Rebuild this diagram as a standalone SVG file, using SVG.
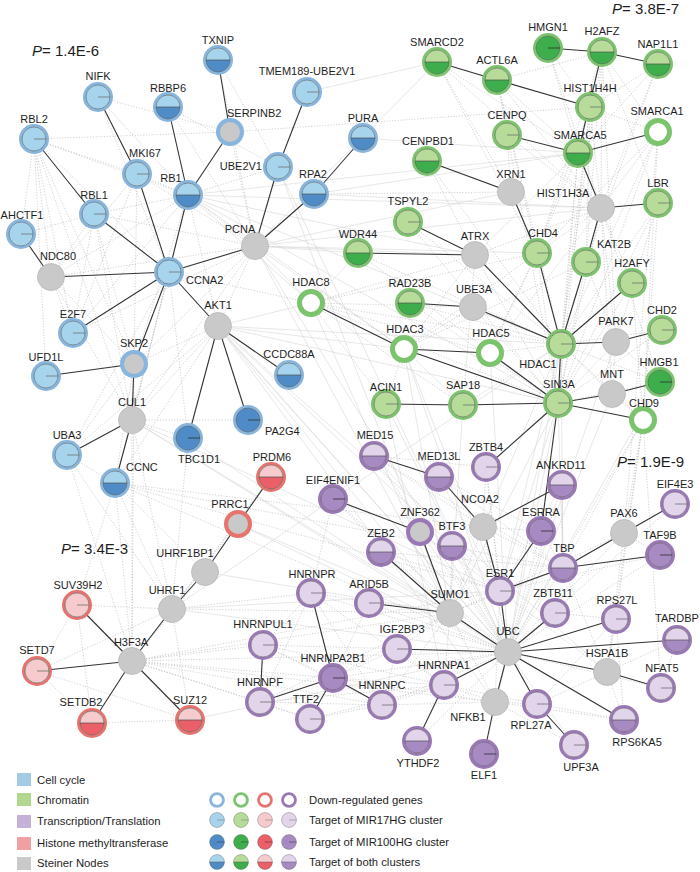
<svg xmlns="http://www.w3.org/2000/svg" width="700" height="872" viewBox="0 0 700 872">
<style>
.d{fill:none;stroke:#b3b3b3;stroke-width:.6;stroke-dasharray:1.2 1.6}
.f{fill:none;stroke:#d6d6d6;stroke-width:.6}
.e{fill:none;stroke:#333;stroke-width:1.1}
.o{stroke:#5c5c5c;stroke-width:.6}
.t{stroke:#707070;stroke-width:.8}
.td{stroke:#2e2e2e;stroke-width:.8}
.m{stroke:#505050;stroke-width:.7}
.s{fill:#c9c9c9;stroke:#b8b8b8;stroke-width:.8}
.rb{fill:none;stroke:#88b5dd;stroke-width:3}
.rg{fill:none;stroke:#7cc36d;stroke-width:3}
.rr{fill:none;stroke:#e6736e;stroke-width:3}
.rp{fill:none;stroke:#9a77b6;stroke-width:3}
.eb{fill:#fff;stroke:#88b5dd;stroke-width:5}
.eg{fill:#fff;stroke:#7cc36d;stroke-width:5}
.er{fill:#fff;stroke:#e6736e;stroke-width:5}
.ep{fill:#fff;stroke:#9a77b6;stroke-width:5}
.gb{fill:#c9c9c9;stroke:#88b5dd;stroke-width:4}
.gr{fill:#c9c9c9;stroke:#e6736e;stroke-width:4}
.gp{fill:#c9c9c9;stroke:#9a77b6;stroke-width:4}
.l{font:11px "Liberation Sans",Arial,sans-serif;fill:#1e1e1e;text-anchor:middle}
.ls{text-anchor:start}
.le{text-anchor:end}
.pv{font:15px "Liberation Sans",Arial,sans-serif;fill:#1e1e1e}
.lg{font:11.3px "Liberation Sans",Arial,sans-serif;fill:#1e1e1e}
</style>
<defs>
<g id="bLi"><circle r="12" fill="#a7d4ed" class="o"/><path d="M0 0H12" class="t"/></g>
<g id="bDi"><circle r="12" fill="#4f8cc7" class="o"/><path d="M0 0H12" class="td"/></g>
<g id="bHi"><circle r="12" fill="#a7d4ed"/><path d="M-12 0A12 12 0 0 0 12 0Z" fill="#4f8cc7"/><circle r="12" fill="none" class="o"/><path d="M-12 0H12" class="m"/></g>
<g id="gLi"><circle r="12" fill="#b7dc99" class="o"/><path d="M0 0H12" class="t"/></g>
<g id="gDi"><circle r="12" fill="#3dae4b" class="o"/><path d="M0 0H12" class="td"/></g>
<g id="gHi"><circle r="12" fill="#b7dc99"/><path d="M-12 0A12 12 0 0 0 12 0Z" fill="#3dae4b"/><circle r="12" fill="none" class="o"/><path d="M-12 0H12" class="m"/></g>
<g id="rLi"><circle r="12" fill="#f5cbce" class="o"/><path d="M0 0H12" class="t"/></g>
<g id="rDi"><circle r="12" fill="#ea5f68" class="o"/><path d="M0 0H12" class="td"/></g>
<g id="rHi"><circle r="12" fill="#f5cbce"/><path d="M-12 0A12 12 0 0 0 12 0Z" fill="#ea5f68"/><circle r="12" fill="none" class="o"/><path d="M-12 0H12" class="m"/></g>
<g id="pLi"><circle r="12" fill="#e2d4eb" class="o"/><path d="M0 0H12" class="t"/></g>
<g id="pDi"><circle r="12" fill="#a88ac3" class="o"/><path d="M0 0H12" class="td"/></g>
<g id="pHi"><circle r="12" fill="#e2d4eb"/><path d="M-12 0A12 12 0 0 0 12 0Z" fill="#a88ac3"/><circle r="12" fill="none" class="o"/><path d="M-12 0H12" class="m"/></g>
<g id="bL"><circle r="13.5" class="rb"/><use href="#bLi"/></g>
<g id="bD"><circle r="13.5" class="rb"/><use href="#bDi"/></g>
<g id="bH"><circle r="13.5" class="rb"/><use href="#bHi"/></g>
<g id="gL"><circle r="13.5" class="rg"/><use href="#gLi"/></g>
<g id="gD"><circle r="13.5" class="rg"/><use href="#gDi"/></g>
<g id="gH"><circle r="13.5" class="rg"/><use href="#gHi"/></g>
<g id="rL"><circle r="13.5" class="rr"/><use href="#rLi"/></g>
<g id="rH"><circle r="13.5" class="rr"/><use href="#rHi"/></g>
<g id="pL"><circle r="13.5" class="rp"/><use href="#pLi"/></g>
<g id="pD"><circle r="13.5" class="rp"/><use href="#pDi"/></g>
<g id="pH"><circle r="13.5" class="rp"/><use href="#pHi"/></g>
<circle id="bE" r="11.5" class="eb"/>
<circle id="gE" r="11.5" class="eg"/>
<circle id="rE" r="11.5" class="er"/>
<circle id="pE" r="11.5" class="ep"/>
<circle id="bG" r="12" class="gb"/>
<circle id="rG" r="12" class="gr"/>
<circle id="pG" r="12" class="gp"/>
<circle id="S" r="13.5" class="s"/>
</defs>
<rect width="700" height="872" fill="#fff"/>
<g id="connectors">
<g id="background-edges">
<path class="d" d="M34 139 230 132"/><path class="d" d="M34 139 137 174"/><path class="d" d="M34 139 188 195"/><path class="d" d="M34 139 169 272"/><path class="d" d="M34 139 51 277"/><path class="d" d="M34 139 73 333"/><path class="d" d="M34 139 21 234"/><path class="d" d="M34 139 134 364"/><path class="d" d="M34 139 132 420"/><path class="d" d="M34 139 46 376"/>
<path class="d" d="M98 97 230 132"/><path class="d" d="M98 97 188 195"/><path class="d" d="M98 97 169 272"/><path class="d" d="M168 107 255 246"/><path class="d" d="M168 107 278 167"/><path class="d" d="M218 60 278 167"/><path class="d" d="M218 60 255 246"/>
<path class="d" d="M137 174 188 195"/><path class="d" d="M137 174 255 246"/><path class="d" d="M137 174 51 277"/><path class="d" d="M137 174 134 364"/><path class="d" d="M137 174 73 333"/>
<path class="d" d="M188 195 255 246"/><path class="d" d="M188 195 218 326"/><path class="d" d="M188 195 73 333"/><path class="d" d="M188 195 134 364"/><path class="d" d="M188 195 132 420"/><path class="d" d="M188 195 51 277"/><path class="d" d="M188 195 278 167"/>
<path class="d" d="M94 214 188 195"/><path class="d" d="M94 214 255 246"/><path class="d" d="M94 214 51 277"/><path class="d" d="M94 214 73 333"/><path class="d" d="M94 214 134 364"/><path class="d" d="M94 214 132 420"/><path class="d" d="M94 214 21 234"/>
<path class="d" d="M169 272 132 420"/><path class="d" d="M169 272 67 455"/><path class="d" d="M169 272 115 483"/><path class="d" d="M169 272 188 438"/><path class="d" d="M51 277 73 333"/><path class="d" d="M51 277 134 364"/><path class="d" d="M51 277 132 420"/>
<path class="d" d="M255 246 218 326"/><path class="d" d="M255 246 134 364"/><path class="d" d="M255 246 132 420"/><path class="d" d="M255 246 51 277"/><path class="d" d="M255 246 73 333"/>
<path class="d" d="M218 326 134 364"/><path class="d" d="M218 326 132 420"/><path class="d" d="M218 326 115 483"/><path class="d" d="M218 326 67 455"/><path class="d" d="M134 364 67 455"/><path class="d" d="M134 364 115 483"/><path class="d" d="M132 420 188 438"/><path class="d" d="M132 420 248 420"/><path class="d" d="M67 455 115 483"/><path class="d" d="M230 132 255 246"/>
<path class="f" d="M255 246 311 303"/><path class="f" d="M255 246 404 349"/><path class="f" d="M255 246 475 255"/><path class="f" d="M255 246 358 253"/><path class="f" d="M255 246 511 192"/><path class="f" d="M255 246 601 208"/><path class="f" d="M255 246 437 62"/><path class="f" d="M255 246 537 253"/><path class="f" d="M255 246 508 652"/><path class="f" d="M255 246 450 613"/>
<path class="f" d="M218 326 311 303"/><path class="f" d="M218 326 404 349"/><path class="f" d="M218 326 561 344"/><path class="f" d="M218 326 558 403"/><path class="f" d="M218 326 508 652"/><path class="f" d="M218 326 500 591"/><path class="f" d="M218 326 450 613"/><path class="f" d="M218 326 495 702"/><path class="f" d="M218 326 607 672"/>
<path class="f" d="M188 195 561 344"/><path class="f" d="M188 195 404 349"/><path class="f" d="M188 195 311 303"/><path class="f" d="M188 195 558 403"/><path class="f" d="M188 195 475 255"/><path class="f" d="M188 195 578 153"/><path class="f" d="M188 195 601 208"/>
<path class="f" d="M169 272 508 652"/><path class="d" d="M169 272 311 303"/><path class="f" d="M132 420 508 652"/><path class="f" d="M132 420 450 613"/><path class="f" d="M132 420 500 591"/>
<path class="d" d="M115 483 508 652"/><path class="d" d="M115 483 563 568"/><path class="d" d="M115 483 500 591"/><path class="d" d="M115 483 483 527"/><path class="f" d="M188 438 508 652"/><path class="f" d="M278 167 508 652"/><path class="f" d="M278 167 450 613"/>
<path class="f" d="M314 194 601 208"/><path class="f" d="M314 194 578 153"/><path class="d" d="M314 194 511 192"/><path class="f" d="M307 92 437 62"/><path class="f" d="M363 138 578 153"/><path class="d" d="M230 132 590 107"/>
<path class="d" d="M437 62 590 107"/><path class="d" d="M437 62 578 153"/><path class="d" d="M437 62 601 208"/><path class="d" d="M437 62 537 253"/><path class="d" d="M437 62 511 192"/>
<path class="d" d="M497 80 602 52"/><path class="d" d="M497 80 578 153"/><path class="d" d="M497 80 601 208"/><path class="d" d="M497 80 561 344"/><path class="d" d="M497 80 537 253"/><path class="d" d="M497 80 558 403"/>
<path class="d" d="M548 48 590 107"/><path class="d" d="M548 48 578 153"/><path class="d" d="M548 48 601 208"/>
<path class="d" d="M602 52 601 208"/><path class="d" d="M602 52 561 344"/><path class="d" d="M602 52 586 262"/><path class="d" d="M602 52 658 132"/><path class="d" d="M602 52 658 203"/><path class="d" d="M602 52 616 342"/><path class="d" d="M602 52 537 253"/>
<path class="d" d="M658 64 590 107"/><path class="d" d="M658 64 601 208"/><path class="d" d="M658 64 578 153"/><path class="d" d="M658 64 586 262"/>
<path class="d" d="M590 107 601 208"/><path class="d" d="M590 107 658 132"/><path class="d" d="M590 107 561 344"/><path class="d" d="M590 107 537 253"/><path class="d" d="M590 107 586 262"/><path class="d" d="M590 107 558 403"/>
<path class="d" d="M507 135 601 208"/><path class="d" d="M507 135 511 192"/>
<path class="d" d="M658 132 601 208"/><path class="d" d="M658 132 561 344"/><path class="d" d="M658 132 558 403"/><path class="d" d="M658 132 537 253"/><path class="d" d="M658 132 643 420"/>
<path class="d" d="M578 153 561 344"/><path class="d" d="M578 153 537 253"/><path class="d" d="M578 153 558 403"/><path class="d" d="M578 153 475 255"/>
<path class="d" d="M601 208 561 344"/><path class="d" d="M601 208 558 403"/><path class="d" d="M601 208 537 253"/><path class="d" d="M601 208 632 283"/><path class="d" d="M601 208 475 255"/><path class="d" d="M601 208 660 382"/><path class="d" d="M601 208 616 342"/><path class="d" d="M601 208 490 353"/><path class="d" d="M601 208 612 394"/>
<path class="d" d="M658 203 561 344"/><path class="d" d="M658 203 558 403"/><path class="d" d="M658 203 643 420"/><path class="d" d="M658 203 616 342"/>
<path class="d" d="M427 161 475 255"/><path class="d" d="M427 161 561 344"/><path class="d" d="M408 222 561 344"/><path class="d" d="M408 222 558 403"/><path class="d" d="M358 253 561 344"/><path class="d" d="M358 253 558 403"/>
<path class="d" d="M475 255 558 403"/><path class="d" d="M475 255 404 349"/><path class="d" d="M475 255 463 405"/><path class="d" d="M537 253 558 403"/><path class="d" d="M537 253 404 349"/><path class="d" d="M537 253 490 353"/><path class="d" d="M537 253 463 405"/>
<path class="d" d="M586 262 558 403"/><path class="d" d="M586 262 404 349"/><path class="d" d="M586 262 616 342"/><path class="d" d="M632 283 558 403"/><path class="d" d="M632 283 643 420"/>
<path class="d" d="M311 303 558 403"/><path class="d" d="M311 303 561 344"/><path class="d" d="M311 303 463 405"/><path class="d" d="M311 303 473 307"/><path class="d" d="M311 303 475 255"/><path class="d" d="M311 303 358 253"/><path class="d" d="M311 303 386 404"/><path class="d" d="M311 303 490 353"/><path class="d" d="M311 303 537 253"/>
<path class="d" d="M410 303 561 344"/><path class="d" d="M410 303 558 403"/><path class="d" d="M473 307 558 403"/><path class="d" d="M404 349 463 405"/><path class="d" d="M404 349 386 404"/><path class="d" d="M404 349 473 307"/><path class="d" d="M490 353 561 344"/>
<path class="d" d="M561 344 612 394"/><path class="d" d="M561 344 662 330"/><path class="d" d="M561 344 660 382"/><path class="d" d="M561 344 643 420"/><path class="d" d="M561 344 463 405"/><path class="d" d="M558 403 616 342"/><path class="d" d="M558 403 660 382"/><path class="d" d="M558 403 662 330"/><path class="d" d="M612 394 643 420"/><path class="d" d="M612 394 616 342"/><path class="d" d="M616 342 660 382"/>
<path class="f" d="M561 344 500 591"/><path class="f" d="M561 344 483 527"/><path class="f" d="M561 344 508 652"/><path class="f" d="M558 403 500 591"/><path class="f" d="M558 403 508 652"/><path class="f" d="M558 403 563 568"/><path class="f" d="M558 403 450 613"/><path class="f" d="M404 349 508 652"/><path class="f" d="M404 349 450 613"/><path class="f" d="M311 303 450 613"/><path class="f" d="M404 349 500 591"/><path class="f" d="M490 353 508 652"/>
<path class="d" d="M643 420 508 652"/><path class="d" d="M643 420 624 533"/><path class="d" d="M643 420 563 568"/><path class="d" d="M643 420 607 672"/><path class="d" d="M643 420 616 619"/><path class="d" d="M643 420 661 688"/><path class="f" d="M612 394 508 652"/><path class="f" d="M660 382 508 652"/><path class="f" d="M616 342 508 652"/><path class="f" d="M463 405 450 613"/><path class="f" d="M386 404 444 685"/><path class="f" d="M386 404 508 652"/><path class="f" d="M561 344 563 568"/><path class="d" d="M658 132 624 533"/>
<path class="d" d="M271 477 172 609"/><path class="d" d="M271 477 132 661"/><path class="f" d="M238 524 508 652"/><path class="f" d="M238 524 450 613"/><path class="d" d="M238 524 132 661"/><path class="d" d="M205 572 132 661"/><path class="f" d="M205 572 450 613"/>
<path class="d" d="M172 609 450 613"/><path class="f" d="M172 609 508 652"/><path class="d" d="M172 609 77 605"/><path class="d" d="M172 609 37 671"/><path class="d" d="M172 609 190 720"/><path class="d" d="M172 609 311 593"/><path class="f" d="M172 609 500 591"/><path class="f" d="M172 609 561 344"/>
<path class="d" d="M132 661 508 652"/><path class="d" d="M132 661 450 613"/><path class="d" d="M132 661 333 678"/><path class="d" d="M132 661 260 702"/><path class="d" d="M132 661 382 705"/><path class="d" d="M132 661 310 719"/><path class="d" d="M132 661 263 645"/><path class="d" d="M132 661 500 591"/><path class="d" d="M132 661 495 702"/>
<path class="d" d="M77 605 37 671"/><path class="d" d="M77 605 190 720"/><path class="d" d="M77 605 92 723"/><path class="d" d="M37 671 190 720"/><path class="d" d="M37 671 92 723"/><path class="d" d="M92 723 190 720"/><path class="f" d="M190 720 508 652"/>
<path class="d" d="M115 483 172 609"/><path class="d" d="M115 483 132 661"/><path class="d" d="M115 483 77 605"/><path class="d" d="M67 455 132 661"/><path class="d" d="M67 455 172 609"/><path class="d" d="M188 438 172 609"/><path class="d" d="M132 420 172 609"/><path class="d" d="M132 420 132 661"/><path class="d" d="M134 364 132 661"/><path class="d" d="M115 483 205 572"/>
<path class="d" d="M374 456 483 527"/><path class="d" d="M374 456 500 591"/><path class="d" d="M374 456 563 568"/><path class="d" d="M374 456 486 467"/><path class="d" d="M374 456 333 499"/><path class="d" d="M374 456 508 652"/>
<path class="d" d="M439 477 500 591"/><path class="d" d="M439 477 541 531"/><path class="d" d="M439 477 563 568"/><path class="d" d="M486 467 483 527"/><path class="d" d="M486 467 500 591"/><path class="d" d="M486 467 508 652"/>
<path class="d" d="M562 485 500 591"/><path class="d" d="M562 485 563 568"/><path class="d" d="M562 485 508 652"/><path class="d" d="M333 499 450 613"/><path class="d" d="M333 499 508 652"/><path class="d" d="M333 499 311 593"/>
<path class="d" d="M483 527 563 568"/><path class="d" d="M483 527 450 613"/><path class="d" d="M483 527 508 652"/><path class="d" d="M483 527 541 531"/><path class="d" d="M541 531 563 568"/><path class="d" d="M541 531 508 652"/>
<path class="d" d="M624 533 508 652"/><path class="d" d="M624 533 500 591"/><path class="d" d="M624 533 607 672"/><path class="d" d="M624 533 660 555"/><path class="d" d="M675 504 508 652"/><path class="d" d="M675 504 563 568"/><path class="d" d="M660 555 508 652"/><path class="d" d="M660 555 500 591"/>
<path class="d" d="M420 532 508 652"/><path class="d" d="M420 532 500 591"/><path class="d" d="M381 552 508 652"/><path class="d" d="M381 552 500 591"/><path class="d" d="M381 552 563 568"/><path class="d" d="M452 546 508 652"/><path class="d" d="M452 546 450 613"/>
<path class="d" d="M563 568 508 652"/><path class="d" d="M563 568 607 672"/><path class="d" d="M563 568 450 613"/><path class="d" d="M500 591 450 613"/><path class="d" d="M500 591 607 672"/><path class="d" d="M500 591 495 702"/>
<path class="d" d="M450 613 444 685"/><path class="d" d="M450 613 382 705"/><path class="d" d="M450 613 333 678"/><path class="d" d="M450 613 260 702"/><path class="d" d="M450 613 397 649"/><path class="d" d="M450 613 311 593"/><path class="d" d="M450 613 495 702"/>
<path class="d" d="M311 593 260 702"/><path class="d" d="M311 593 382 705"/><path class="d" d="M311 593 444 685"/><path class="d" d="M311 593 508 652"/><path class="d" d="M311 593 263 645"/><path class="d" d="M369 603 508 652"/><path class="d" d="M369 603 333 678"/>
<path class="d" d="M263 645 333 678"/><path class="d" d="M263 645 382 705"/><path class="d" d="M263 645 444 685"/><path class="d" d="M263 645 508 652"/><path class="d" d="M397 649 333 678"/><path class="d" d="M397 649 382 705"/><path class="d" d="M397 649 444 685"/>
<path class="d" d="M333 678 444 685"/><path class="d" d="M333 678 508 652"/><path class="d" d="M333 678 495 702"/><path class="d" d="M260 702 382 705"/><path class="d" d="M260 702 444 685"/><path class="d" d="M260 702 310 719"/>
<path class="d" d="M382 705 444 685"/><path class="d" d="M382 705 508 652"/><path class="d" d="M382 705 495 702"/><path class="d" d="M382 705 310 719"/><path class="d" d="M444 685 495 702"/><path class="d" d="M444 685 537 704"/><path class="d" d="M310 719 444 685"/>
<path class="d" d="M508 652 417 741"/><path class="d" d="M508 652 484 754"/><path class="d" d="M508 652 574 745"/><path class="d" d="M508 652 661 688"/><path class="d" d="M495 702 537 704"/><path class="d" d="M495 702 624 720"/><path class="d" d="M495 702 574 745"/>
<path class="d" d="M607 672 624 720"/><path class="d" d="M607 672 537 704"/><path class="d" d="M607 672 616 619"/><path class="d" d="M607 672 677 640"/><path class="d" d="M616 619 537 704"/><path class="d" d="M616 619 624 720"/><path class="d" d="M537 704 624 720"/><path class="d" d="M677 640 661 688"/><path class="d" d="M616 619 555 613"/>
</g>
<g id="edges">
<path class="e" d="M218 60 230 132"/><path class="e" d="M98 97 137 174"/><path class="e" d="M168 107 188 195"/><path class="e" d="M230 132 188 195"/><path class="e" d="M34 139 94 214"/><path class="e" d="M137 174 169 272"/><path class="e" d="M188 195 169 272"/><path class="e" d="M94 214 169 272"/><path class="e" d="M307 92 278 167"/><path class="e" d="M278 167 255 246"/><path class="e" d="M363 138 314 194"/><path class="e" d="M314 194 255 246"/><path class="e" d="M255 246 169 272"/><path class="e" d="M21 234 51 277"/><path class="e" d="M51 277 169 272"/><path class="e" d="M73 333 169 272"/><path class="e" d="M134 364 169 272"/><path class="e" d="M46 376 134 364"/><path class="e" d="M134 364 132 420"/><path class="e" d="M169 272 218 326"/><path class="e" d="M218 326 188 438"/><path class="e" d="M218 326 248 420"/><path class="e" d="M218 326 289 375"/><path class="e" d="M132 420 67 455"/><path class="e" d="M132 420 115 483"/>
<path class="e" d="M271 477 238 524"/><path class="e" d="M238 524 205 572"/><path class="e" d="M205 572 172 609"/><path class="e" d="M172 609 132 661"/><path class="e" d="M77 605 132 661"/><path class="e" d="M37 671 132 661"/><path class="e" d="M92 723 132 661"/><path class="e" d="M190 720 132 661"/>
<path class="e" d="M437 62 497 80"/><path class="e" d="M497 80 590 107"/><path class="e" d="M548 48 602 52"/><path class="e" d="M602 52 658 64"/><path class="e" d="M602 52 578 153"/><path class="e" d="M507 135 578 153"/><path class="e" d="M578 153 658 132"/><path class="e" d="M578 153 601 208"/><path class="e" d="M427 161 511 192"/><path class="e" d="M511 192 537 253"/><path class="e" d="M601 208 658 203"/><path class="e" d="M601 208 586 262"/><path class="e" d="M408 222 475 255"/><path class="e" d="M358 253 475 255"/><path class="e" d="M475 255 561 344"/><path class="e" d="M537 253 561 344"/><path class="e" d="M586 262 561 344"/><path class="e" d="M632 283 561 344"/><path class="e" d="M473 307 561 344"/><path class="e" d="M410 303 473 307"/><path class="e" d="M311 303 404 349"/><path class="e" d="M404 349 490 353"/><path class="e" d="M404 349 558 403"/><path class="e" d="M490 353 558 403"/><path class="e" d="M561 344 558 403"/><path class="e" d="M561 344 616 342"/><path class="e" d="M616 342 662 330"/><path class="e" d="M386 404 463 405"/><path class="e" d="M463 405 558 403"/><path class="e" d="M558 403 612 394"/><path class="e" d="M612 394 660 382"/><path class="e" d="M558 403 643 420"/><path class="e" d="M558 403 486 467"/><path class="e" d="M558 403 541 531"/>
<path class="e" d="M374 456 439 477"/><path class="e" d="M439 477 483 527"/><path class="e" d="M483 527 562 485"/><path class="e" d="M483 527 500 591"/><path class="e" d="M333 499 420 532"/><path class="e" d="M420 532 450 613"/><path class="e" d="M381 552 450 613"/><path class="e" d="M541 531 500 591"/><path class="e" d="M563 568 500 591"/><path class="e" d="M563 568 624 533"/><path class="e" d="M624 533 675 504"/><path class="e" d="M563 568 660 555"/><path class="e" d="M500 591 508 652"/><path class="e" d="M450 613 508 652"/><path class="e" d="M369 603 450 613"/><path class="e" d="M311 593 333 678"/><path class="e" d="M263 645 260 702"/><path class="e" d="M260 702 333 678"/><path class="e" d="M333 678 310 719"/><path class="e" d="M333 678 382 705"/><path class="e" d="M444 685 417 741"/><path class="e" d="M444 685 508 652"/><path class="e" d="M397 649 508 652"/><path class="e" d="M508 652 555 613"/><path class="e" d="M508 652 616 619"/><path class="e" d="M508 652 677 640"/><path class="e" d="M508 652 607 672"/><path class="e" d="M607 672 661 688"/><path class="e" d="M508 652 495 702"/><path class="e" d="M508 652 537 704"/><path class="e" d="M508 652 624 720"/><path class="e" d="M495 702 484 754"/><path class="e" d="M537 704 574 745"/>
</g>
</g>
<g id="pvalues">
<text class="pv" x="32" y="56"><tspan font-style="italic">P</tspan>= 1.4E-6</text>
<text class="pv" x="612" y="14"><tspan font-style="italic">P</tspan>= 3.8E-7</text>
<text class="pv" x="617" y="467"><tspan font-style="italic">P</tspan>= 1.9E-9</text>
<text class="pv" x="61" y="554"><tspan font-style="italic">P</tspan>= 3.4E-3</text>
</g>
<g id="nodes">
<g id="n-TXNIP"><use href="#bH" x="218" y="60"/><text class="l" x="218" y="44">TXNIP</text></g>
<g id="n-NIFK"><use href="#bL" x="98" y="97"/><text class="l" x="98" y="80">NIFK</text></g>
<g id="n-RBBP6"><use href="#bH" x="168" y="107"/><text class="l" x="168" y="92">RBBP6</text></g>
<g id="n-RBL2"><use href="#bL" x="34" y="139"/><text class="l" x="34" y="123">RBL2</text></g>
<g id="n-SERPINB2"><use href="#bG" x="230" y="132"/><text class="l ls" x="227" y="117">SERPINB2</text></g>
<g id="n-MKI67"><use href="#bL" x="137" y="174"/><text class="l" x="145" y="157">MKI67</text></g>
<g id="n-RB1"><use href="#bH" x="188" y="195"/><text class="l" x="171" y="182">RB1</text></g>
<g id="n-UBE2V1"><use href="#bL" x="278" y="167"/><text class="l le" x="262" y="170">UBE2V1</text></g>
<g id="n-TMEM189-UBE2V1"><use href="#bL" x="307" y="92"/><text class="l" x="307" y="75">TMEM189-UBE2V1</text></g>
<g id="n-PURA"><use href="#bH" x="363" y="138"/><text class="l" x="363" y="122">PURA</text></g>
<g id="n-RPA2"><use href="#bH" x="314" y="194"/><text class="l" x="313" y="178">RPA2</text></g>
<g id="n-RBL1"><use href="#bL" x="94" y="214"/><text class="l" x="94" y="199">RBL1</text></g>
<g id="n-AHCTF1"><use href="#bL" x="21" y="234"/><text class="l" x="22" y="219">AHCTF1</text></g>
<g id="n-NDC80"><use href="#S" x="51" y="277"/><text class="l" x="58" y="260">NDC80</text></g>
<g id="n-CCNA2"><use href="#bL" x="169" y="272"/><text class="l ls" x="186" y="284">CCNA2</text></g>
<g id="n-PCNA"><use href="#S" x="255" y="246"/><text class="l" x="240" y="233">PCNA</text></g>
<g id="n-AKT1"><use href="#S" x="218" y="326"/><text class="l" x="218" y="309">AKT1</text></g>
<g id="n-E2F7"><use href="#bL" x="73" y="333"/><text class="l" x="73" y="318">E2F7</text></g>
<g id="n-SKP2"><use href="#bG" x="134" y="364"/><text class="l" x="134" y="347">SKP2</text></g>
<g id="n-UFD1L"><use href="#bL" x="46" y="376"/><text class="l" x="46" y="361">UFD1L</text></g>
<g id="n-CUL1"><use href="#S" x="132" y="420"/><text class="l" x="132" y="406">CUL1</text></g>
<g id="n-CCDC88A"><use href="#bH" x="289" y="375"/><text class="l" x="289" y="358">CCDC88A</text></g>
<g id="n-PA2G4"><use href="#bD" x="248" y="420"/><text class="l ls" x="265" y="435">PA2G4</text></g>
<g id="n-TBC1D1"><use href="#bD" x="188" y="438"/><text class="l" x="199" y="463">TBC1D1</text></g>
<g id="n-UBA3"><use href="#bL" x="67" y="455"/><text class="l" x="67" y="439">UBA3</text></g>
<g id="n-CCNC"><use href="#bH" x="115" y="483"/><text class="l ls" x="126" y="471">CCNC</text></g>
<g id="n-PRDM6"><use href="#rH" x="271" y="477"/><text class="l" x="272" y="461">PRDM6</text></g>
<g id="n-PRRC1"><use href="#rG" x="238" y="524"/><text class="l" x="230" y="508">PRRC1</text></g>
<g id="n-UHRF1BP1"><use href="#S" x="205" y="572"/><text class="l" x="185" y="557">UHRF1BP1</text></g>
<g id="n-UHRF1"><use href="#S" x="172" y="609"/><text class="l" x="167" y="594">UHRF1</text></g>
<g id="n-SUV39H2"><use href="#rL" x="77" y="605"/><text class="l" x="78" y="589">SUV39H2</text></g>
<g id="n-H3F3A"><use href="#S" x="132" y="661"/><text class="l" x="131" y="646">H3F3A</text></g>
<g id="n-SETD7"><use href="#rL" x="37" y="671"/><text class="l" x="37" y="654">SETD7</text></g>
<g id="n-SETDB2"><use href="#rH" x="92" y="723"/><text class="l" x="81" y="706">SETDB2</text></g>
<g id="n-SUZ12"><use href="#rH" x="190" y="720"/><text class="l" x="190" y="704">SUZ12</text></g>
<g id="n-SMARCD2"><use href="#gH" x="437" y="62"/><text class="l" x="437" y="46">SMARCD2</text></g>
<g id="n-HMGN1"><use href="#gD" x="548" y="48"/><text class="l" x="548" y="31">HMGN1</text></g>
<g id="n-H2AFZ"><use href="#gH" x="602" y="52"/><text class="l" x="602" y="35">H2AFZ</text></g>
<g id="n-NAP1L1"><use href="#gH" x="658" y="64"/><text class="l" x="658" y="48">NAP1L1</text></g>
<g id="n-ACTL6A"><use href="#gH" x="497" y="80"/><text class="l" x="497" y="64">ACTL6A</text></g>
<g id="n-HIST1H4H"><use href="#gL" x="590" y="107"/><text class="l" x="590" y="92">HIST1H4H</text></g>
<g id="n-CENPQ"><use href="#gL" x="507" y="135"/><text class="l" x="507" y="119">CENPQ</text></g>
<g id="n-SMARCA1"><use href="#gE" x="658" y="132"/><text class="l" x="657" y="115">SMARCA1</text></g>
<g id="n-SMARCA5"><use href="#gH" x="578" y="153"/><text class="l" x="580" y="139">SMARCA5</text></g>
<g id="n-CENPBD1"><use href="#gH" x="427" y="161"/><text class="l" x="428" y="145">CENPBD1</text></g>
<g id="n-XRN1"><use href="#S" x="511" y="192"/><text class="l" x="511" y="178">XRN1</text></g>
<g id="n-HIST1H3A"><use href="#S" x="601" y="208"/><text class="l" x="563" y="197">HIST1H3A</text></g>
<g id="n-LBR"><use href="#gL" x="658" y="203"/><text class="l" x="658" y="187">LBR</text></g>
<g id="n-TSPYL2"><use href="#gL" x="408" y="222"/><text class="l" x="408" y="205">TSPYL2</text></g>
<g id="n-WDR44"><use href="#gH" x="358" y="253"/><text class="l" x="358" y="238">WDR44</text></g>
<g id="n-ATRX"><use href="#S" x="475" y="255"/><text class="l" x="475" y="240">ATRX</text></g>
<g id="n-CHD4"><use href="#gL" x="537" y="253"/><text class="l" x="543" y="237">CHD4</text></g>
<g id="n-KAT2B"><use href="#gL" x="586" y="262"/><text class="l ls" x="597" y="248">KAT2B</text></g>
<g id="n-H2AFY"><use href="#gL" x="632" y="283"/><text class="l" x="632" y="267">H2AFY</text></g>
<g id="n-HDAC8"><use href="#gE" x="311" y="303"/><text class="l" x="311" y="286">HDAC8</text></g>
<g id="n-RAD23B"><use href="#gH" x="410" y="303"/><text class="l" x="410" y="287">RAD23B</text></g>
<g id="n-UBE3A"><use href="#S" x="473" y="307"/><text class="l" x="474" y="293">UBE3A</text></g>
<g id="n-HDAC3"><use href="#gE" x="404" y="349"/><text class="l" x="405" y="333">HDAC3</text></g>
<g id="n-HDAC5"><use href="#gE" x="490" y="353"/><text class="l" x="491" y="337">HDAC5</text></g>
<g id="n-HDAC1"><use href="#gL" x="561" y="344"/><text class="l" x="538" y="368">HDAC1</text></g>
<g id="n-PARK7"><use href="#S" x="616" y="342"/><text class="l" x="616" y="325">PARK7</text></g>
<g id="n-CHD2"><use href="#gL" x="662" y="330"/><text class="l" x="662" y="314">CHD2</text></g>
<g id="n-ACIN1"><use href="#gL" x="386" y="404"/><text class="l" x="386" y="391">ACIN1</text></g>
<g id="n-SAP18"><use href="#gL" x="463" y="405"/><text class="l" x="463" y="389">SAP18</text></g>
<g id="n-SIN3A"><use href="#gL" x="558" y="403"/><text class="l" x="559" y="388">SIN3A</text></g>
<g id="n-MNT"><use href="#S" x="612" y="394"/><text class="l" x="612" y="378">MNT</text></g>
<g id="n-HMGB1"><use href="#gD" x="660" y="382"/><text class="l" x="659" y="366">HMGB1</text></g>
<g id="n-CHD9"><use href="#gE" x="643" y="420"/><text class="l" x="644" y="407">CHD9</text></g>
<g id="n-MED15"><use href="#pH" x="374" y="456"/><text class="l" x="375" y="439">MED15</text></g>
<g id="n-MED13L"><use href="#pH" x="439" y="477"/><text class="l" x="439" y="460">MED13L</text></g>
<g id="n-ZBTB4"><use href="#pL" x="486" y="467"/><text class="l" x="486" y="451">ZBTB4</text></g>
<g id="n-ANKRD11"><use href="#pH" x="562" y="485"/><text class="l" x="561" y="469">ANKRD11</text></g>
<g id="n-EIF4ENIF1"><use href="#pD" x="333" y="499"/><text class="l" x="333" y="484">EIF4ENIF1</text></g>
<g id="n-NCOA2"><use href="#S" x="483" y="527"/><text class="l" x="480" y="503">NCOA2</text></g>
<g id="n-ESRRA"><use href="#pD" x="541" y="531"/><text class="l" x="541" y="516">ESRRA</text></g>
<g id="n-PAX6"><use href="#S" x="624" y="533"/><text class="l" x="624" y="517">PAX6</text></g>
<g id="n-EIF4E3"><use href="#pL" x="675" y="504"/><text class="l" x="675" y="488">EIF4E3</text></g>
<g id="n-TAF9B"><use href="#pD" x="660" y="555"/><text class="l" x="660" y="539">TAF9B</text></g>
<g id="n-ZNF362"><use href="#pG" x="420" y="532"/><text class="l" x="420" y="516">ZNF362</text></g>
<g id="n-ZEB2"><use href="#pH" x="381" y="552"/><text class="l" x="381" y="537">ZEB2</text></g>
<g id="n-BTF3"><use href="#pH" x="452" y="546"/><text class="l" x="452" y="530">BTF3</text></g>
<g id="n-TBP"><use href="#pH" x="563" y="568"/><text class="l" x="564" y="552">TBP</text></g>
<g id="n-ESR1"><use href="#pL" x="500" y="591"/><text class="l" x="500" y="577">ESR1</text></g>
<g id="n-SUMO1"><use href="#S" x="450" y="613"/><text class="l" x="450" y="598">SUMO1</text></g>
<g id="n-HNRNPR"><use href="#pL" x="311" y="593"/><text class="l" x="312" y="578">HNRNPR</text></g>
<g id="n-ARID5B"><use href="#pL" x="369" y="603"/><text class="l" x="369" y="588">ARID5B</text></g>
<g id="n-ZBTB11"><use href="#pL" x="555" y="613"/><text class="l" x="553" y="597">ZBTB11</text></g>
<g id="n-RPS27L"><use href="#pL" x="616" y="619"/><text class="l" x="617" y="604">RPS27L</text></g>
<g id="n-TARDBP"><use href="#pH" x="677" y="640"/><text class="l" x="677" y="622">TARDBP</text></g>
<g id="n-HNRNPUL1"><use href="#pL" x="263" y="645"/><text class="l" x="263" y="628">HNRNPUL1</text></g>
<g id="n-IGF2BP3"><use href="#pL" x="397" y="649"/><text class="l" x="402" y="633">IGF2BP3</text></g>
<g id="n-UBC"><use href="#S" x="508" y="652"/><text class="l" x="508" y="635">UBC</text></g>
<g id="n-HSPA1B"><use href="#S" x="607" y="672"/><text class="l" x="607" y="657">HSPA1B</text></g>
<g id="n-NFAT5"><use href="#pL" x="661" y="688"/><text class="l" x="662" y="672">NFAT5</text></g>
<g id="n-HNRNPA2B1"><use href="#pD" x="333" y="678"/><text class="l" x="333" y="662">HNRNPA2B1</text></g>
<g id="n-HNRNPF"><use href="#pL" x="260" y="702"/><text class="l" x="260" y="686">HNRNPF</text></g>
<g id="n-HNRNPC"><use href="#pL" x="382" y="705"/><text class="l" x="382" y="689">HNRNPC</text></g>
<g id="n-HNRNPA1"><use href="#pL" x="444" y="685"/><text class="l" x="444" y="669">HNRNPA1</text></g>
<g id="n-TTF2"><use href="#pL" x="310" y="719"/><text class="l" x="306" y="703">TTF2</text></g>
<g id="n-NFKB1"><use href="#S" x="495" y="702"/><text class="l" x="468" y="721">NFKB1</text></g>
<g id="n-RPL27A"><use href="#pL" x="537" y="704"/><text class="l" x="531" y="729">RPL27A</text></g>
<g id="n-RPS6KA5"><use href="#pH" x="624" y="720"/><text class="l" x="637" y="746">RPS6KA5</text></g>
<g id="n-YTHDF2"><use href="#pH" x="417" y="741"/><text class="l" x="418" y="767">YTHDF2</text></g>
<g id="n-ELF1"><use href="#pD" x="484" y="754"/><text class="l" x="484" y="779">ELF1</text></g>
<g id="n-UPF3A"><use href="#pL" x="574" y="745"/><text class="l" x="581" y="771">UPF3A</text></g>
</g>
<g id="legend">
<rect x="17" y="773" width="14" height="13" fill="#a3cbe3"/><text class="lg" x="37" y="784">Cell cycle</text>
<rect x="17" y="793" width="14" height="13" fill="#b0d88e"/><text class="lg" x="37" y="804">Chromatin</text>
<rect x="17" y="815" width="14" height="13" fill="#c6b1d8"/><text class="lg" x="37" y="825">Transcription/Translation</text>
<rect x="17" y="837" width="14" height="13" fill="#f0a0a3"/><text class="lg" x="37" y="847">Histone methyltransferase</text>
<rect x="17" y="857" width="14" height="13" fill="#c9c9c9"/><text class="lg" x="37" y="867">Steiner Nodes</text>
<use href="#bE" transform="translate(217 800) scale(.56)"/><use href="#gE" transform="translate(241 800) scale(.56)"/><use href="#rE" transform="translate(265 800) scale(.56)"/><use href="#pE" transform="translate(289 800) scale(.56)"/>
<use href="#bLi" transform="translate(217 820) scale(.62)"/><use href="#gLi" transform="translate(241 820) scale(.62)"/><use href="#rLi" transform="translate(265 820) scale(.62)"/><use href="#pLi" transform="translate(289 820) scale(.62)"/>
<use href="#bDi" transform="translate(217 842) scale(.62)"/><use href="#gDi" transform="translate(241 842) scale(.62)"/><use href="#rDi" transform="translate(265 842) scale(.62)"/><use href="#pDi" transform="translate(289 842) scale(.62)"/>
<use href="#bHi" transform="translate(217 862) scale(.62)"/><use href="#gHi" transform="translate(241 862) scale(.62)"/><use href="#rHi" transform="translate(265 862) scale(.62)"/><use href="#pHi" transform="translate(289 862) scale(.62)"/>
<text class="lg" x="309" y="804">Down-regulated genes</text>
<text class="lg" x="309" y="824">Target of MIR17HG cluster</text>
<text class="lg" x="309" y="846">Target of MIR100HG cluster</text>
<text class="lg" x="309" y="866">Target of both clusters</text>
</g>
</svg>
